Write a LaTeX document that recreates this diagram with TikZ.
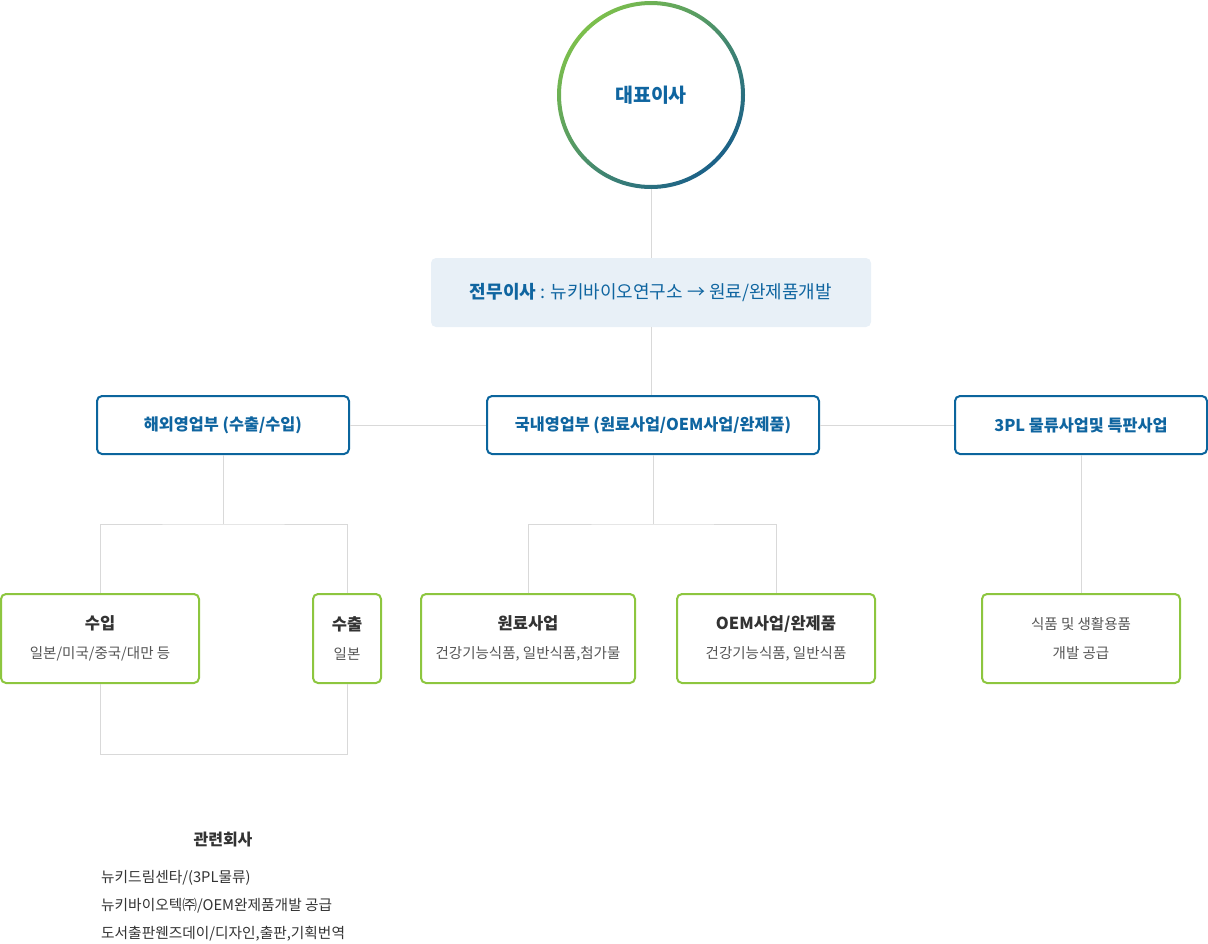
\documentclass[tikz,border=0pt]{standalone}
\usepackage{fontspec}
\setmainfont{Noto Sans CJK KR}
\definecolor{cgreen}{HTML}{7CBF4C}
\definecolor{cteal}{HTML}{1B6188}
\definecolor{tblue}{HTML}{0F65A0}
\definecolor{bblue}{HTML}{0B659D}
\definecolor{bgreen}{HTML}{8DC63F}
\definecolor{linegray}{HTML}{D9D9D9}
\definecolor{execfill}{HTML}{E8F0F7}
\definecolor{dark}{HTML}{333333}
\definecolor{mid}{HTML}{555555}
\tikzset{
  conn/.style={draw=linegray, line width=1pt},
  deptbox/.style={draw=bblue, line width=2pt, rounded corners=5pt, fill=white,
    inner sep=0pt, text=tblue, font=\fontsize{16.3}{20}\selectfont\bfseries,
    minimum height=58pt},
  subbox/.style={draw=bgreen, line width=2pt, rounded corners=5pt, fill=white,
    inner sep=0pt, text=mid, align=center, font=\fontsize{14.5}{29}\selectfont,
    minimum height=89pt},
}
\newcommand{\bt}[1]{{\fontsize{16.5}{29}\selectfont\bfseries\color{dark}#1}}
\begin{document}
\begin{tikzpicture}[x=1pt,y=-1pt]
\useasboundingbox (0,0) rectangle (1208,943);
% CEO
\node[circle, minimum size=188pt, inner sep=0pt, text=tblue,
  font=\fontsize{19.5}{22}\selectfont\bfseries] (ceo) at (651,95) {대표이사};
\shade[even odd rule, top color=cgreen, bottom color=cteal, shading angle=45]
  (651,95) circle (94pt) (651,95) circle (90pt);
% executive
\node[fill=execfill, rounded corners=5pt, minimum width=440pt, minimum height=69pt,
  inner sep=0pt, text=tblue, font=\fontsize{18}{22}\selectfont] (exec) at (651,292.5)
  {{\bfseries 전무이사} : 뉴키바이오연구소 → 원료/완제품개발};
% departments
\node[deptbox, minimum width=252pt] (ovs) at (223,425) {해외영업부 (수출/수입)};
\node[deptbox, minimum width=332pt] (dom) at (653,425) {국내영업부 (원료사업/OEM사업/완제품)};
\node[deptbox, minimum width=252pt] (tpl) at (1081,425) {3PL 물류사업및 특판사업};
% sub boxes
\node[subbox, minimum width=198pt] (imp) at (100,638.5) {\bt{수입}\\일본/미국/중국/대만 등};
\node[subbox, minimum width=68pt] (exp) at (347,638.5) {\bt{수출}\\일본};
\node[subbox, minimum width=214pt] (raw) at (528,638.5) {\bt{원료사업}\\건강기능식품, 일반식품,첨가물};
\node[subbox, minimum width=198pt] (oem) at (776,638.5) {\bt{OEM사업/완제품}\\건강기능식품, 일반식품};
\node[subbox, minimum width=198pt] (food) at (1081,638.5) {식품 및 생활용품\\개발 공급};
% junctions
\coordinate (ovsj) at (223,524);
\coordinate (domj) at (653,524);
\coordinate (loop) at (347,754);
% connectors
\draw[conn] (ceo.south) -- (exec.north);
\draw[conn] (exec.south) -- (exec.south |- dom.north);
\draw[conn] (ovs.east) -- (dom.west);
\draw[conn] (dom.east) -- (tpl.west);
\draw[conn] (ovs.south) -- (ovsj);
\draw[conn] (imp.north) |- (ovsj) -| (exp.north);
\draw[conn] (dom.south) -- (domj);
\draw[conn] (raw.north) |- (domj) -| (oem.north);
\draw[conn] (tpl.south) -- (food.north);
\draw[conn] (imp.south) |- (loop) -- (exp.south);
% related companies
\node[text=dark, font=\fontsize{16}{20}\selectfont\bfseries] (rel) at (223,839) {관련회사};
\node[anchor=west, text=dark, font=\fontsize{14.7}{18}\selectfont, inner sep=0pt] (r1) at (101,878) {뉴키드림센타/(3PL물류)};
\node[anchor=west, text=dark, font=\fontsize{14.7}{18}\selectfont, inner sep=0pt] (r2) at (101,906) {뉴키바이오텍㈜/OEM완제품개발 공급};
\node[anchor=west, text=dark, font=\fontsize{14.7}{18}\selectfont, inner sep=0pt] (r3) at (101,934) {도서출판웬즈데이/디자인,출판,기획번역};
\end{tikzpicture}
\end{document}
